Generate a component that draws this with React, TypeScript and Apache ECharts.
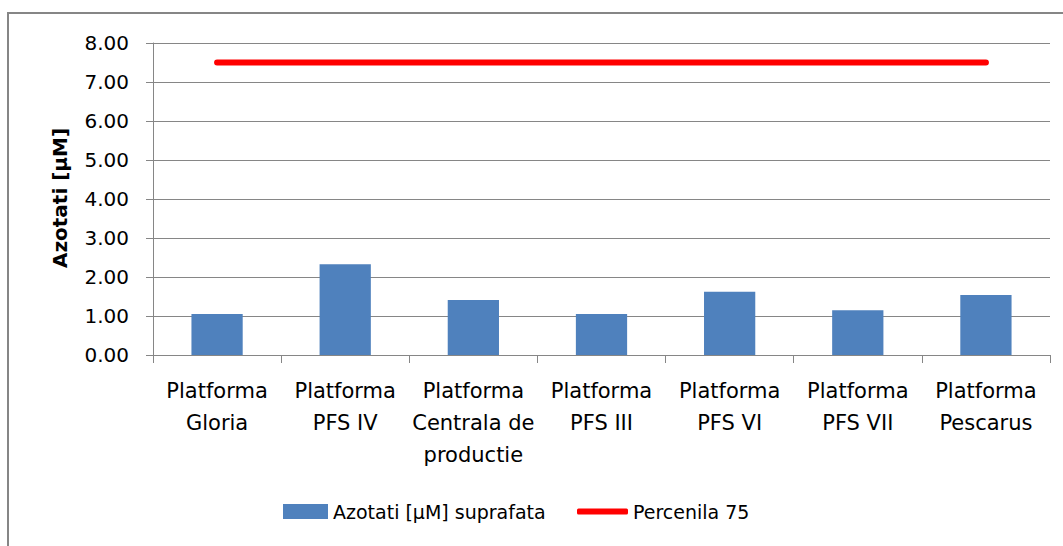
import React, { useEffect, useRef } from "react";
import * as echarts from "echarts";

const categories = [
  "Platforma\nGloria",
  "Platforma\nPFS IV",
  "Platforma\nCentrala de\nproductie",
  "Platforma\nPFS III",
  "Platforma\nPFS VI",
  "Platforma\nPFS VII",
  "Platforma\nPescarus",
];
const azotati = [1.05, 2.33, 1.41, 1.05, 1.62, 1.15, 1.54];
const percentila75 = [7.5, 7.5, 7.5, 7.5, 7.5, 7.5, 7.5];
const barName = "Azotati [µM] suprafata";
const lineName = "Percenila 75";
const yTitle = "Azotati [µM]";

const FONT = "DejaVu Sans";

export default function App() {
  const ref = useRef<HTMLDivElement>(null);
  useEffect(() => {
    if (!ref.current) return;
    const chart = echarts.init(ref.current, null, { renderer: "svg" });
    chart.setOption({
      animation: false,
      backgroundColor: "#ffffff",
      textStyle: { fontFamily: FONT },
      graphic: [
        {
          type: "rect",
          shape: { x: 8, y: 13, width: 1100, height: 600 },
          style: { fill: "none", stroke: "#868686", lineWidth: 2 },
          silent: true,
        },
        {
          type: "text",
          x: 60,
          y: 198,
          rotation: Math.PI / 2,
          style: {
            text: yTitle,
            fontFamily: FONT,
            fontWeight: "bold",
            fontSize: 20,
            fill: "#000",
            align: "center",
            verticalAlign: "middle",
          },
        },
      ],
      grid: { left: 153, right: 13, top: 43, bottom: 191 },
      legend: [
        {
          left: 278,
          top: 497,
          itemWidth: 45,
          itemHeight: 15,
          textStyle: { fontFamily: FONT, fontSize: 19, color: "#000" },
          data: [{ name: barName, icon: "rect" }],
        },
        {
          left: 572,
          top: 497,
          itemWidth: 51,
          itemHeight: 6,
          textStyle: { fontFamily: FONT, fontSize: 19, color: "#000" },
          data: [{ name: lineName, icon: "roundRect" }],
        },
      ],
      xAxis: {
        type: "category",
        data: categories,
        boundaryGap: true,
        axisLine: { show: true, lineStyle: { color: "#868686", width: 1 } },
        axisTick: { show: true, length: 8, lineStyle: { color: "#868686" } },
        axisLabel: {
          interval: 0,
          margin: 20,
          fontFamily: FONT,
          fontSize: 21,
          lineHeight: 32,
          color: "#000",
        },
      },
      yAxis: {
        type: "value",
        min: 0,
        max: 8,
        interval: 1,
        axisLine: { show: true, lineStyle: { color: "#868686", width: 1 } },
        axisTick: { show: true, length: 7, lineStyle: { color: "#868686" } },
        splitLine: { show: true, lineStyle: { color: "#868686", width: 1 } },
        axisLabel: {
          margin: 24,
          fontFamily: FONT,
          fontSize: 20,
          color: "#000",
          formatter: (v: number) => v.toFixed(2),
        },
      },
      series: [
        {
          name: barName,
          type: "bar",
          data: azotati,
          barWidth: "40%",
          itemStyle: { color: "#4F81BD" },
        },
        {
          name: lineName,
          type: "line",
          data: percentila75,
          symbol: "none",
          showSymbol: false,
          lineStyle: { color: "#FF0000", width: 6, cap: "round" },
          itemStyle: { color: "#FF0000" },
        },
      ],
    });
    return () => chart.dispose();
  }, []);
  return (
    <div
      ref={ref}
      style={{ position: "fixed", left: 0, top: 0, width: 1063, height: 546 }}
    />
  );
}
